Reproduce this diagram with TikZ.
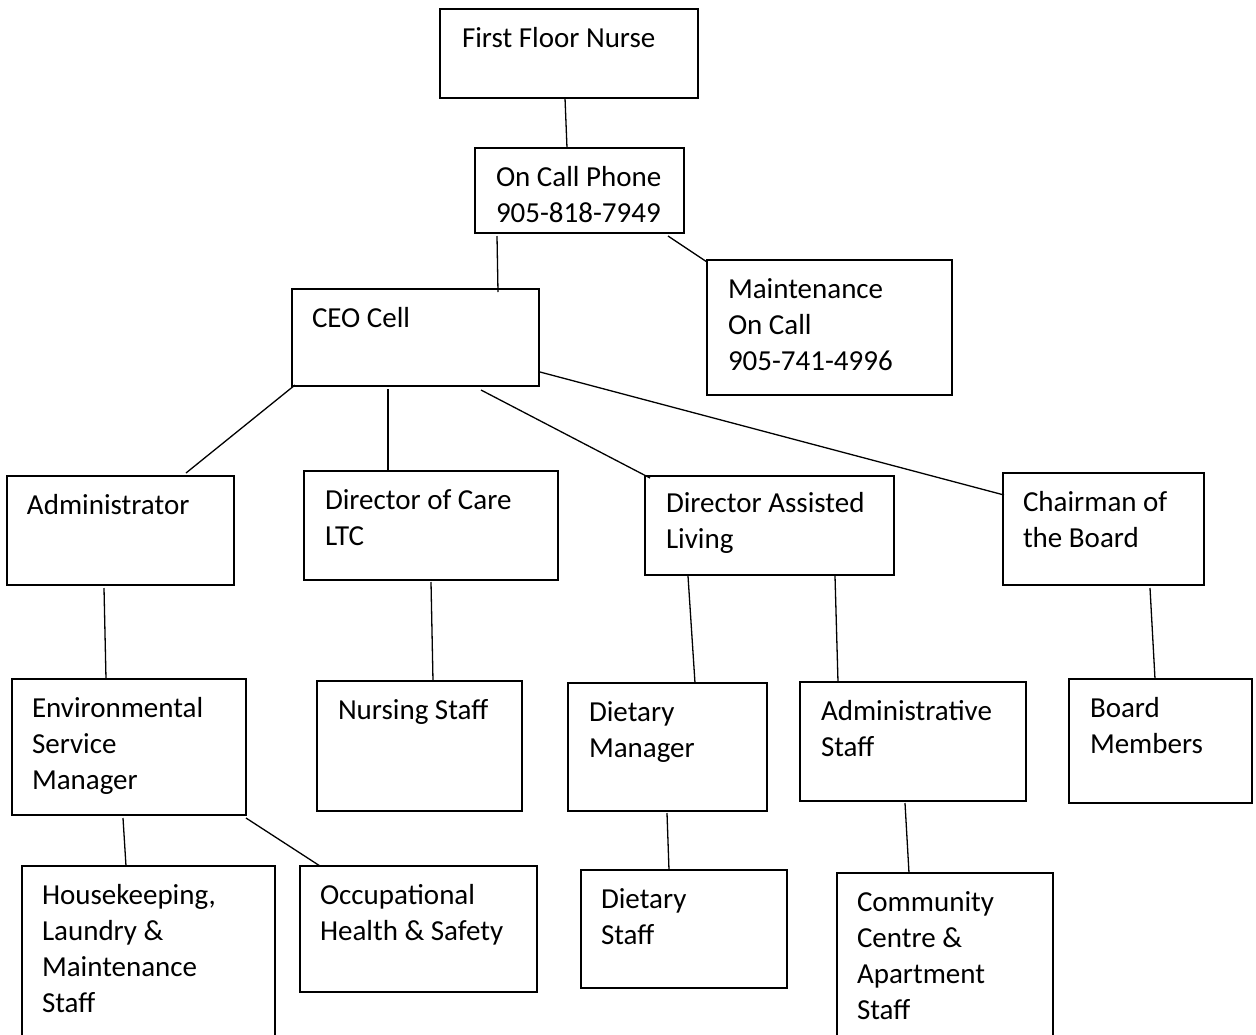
\documentclass[tikz,border=0pt]{standalone}
\usepackage{fontspec}
\setmainfont{Carlito}
\usetikzlibrary{calc}
\begin{document}
\begin{tikzpicture}[x=1pt,y=-1pt,
  box/.style={draw=black,line width=1.4pt,rectangle,inner sep=0pt,outer sep=0pt,anchor=north west},
  txt/.style={inner sep=0pt,outer sep=0pt,anchor=base west,align=left,font=\fontsize{29}{36}\selectfont},
  conn/.style={draw=black,line width=1.3pt}]
\useasboundingbox (0,0) rectangle (1256,1034);
\clip (0,0) rectangle (1256,1034);
% boxes
\node[box,minimum width=258pt,minimum height=89pt] (ffn) at (440,9) {};
\node[box,minimum width=209pt,minimum height=85pt] (ocp) at (475,148) {};
\node[box,minimum width=245pt,minimum height=135pt] (mnt) at (707,260) {};
\node[box,minimum width=247pt,minimum height=97pt] (ceo) at (292,289) {};
\node[box,minimum width=227pt,minimum height=109pt] (adm) at (7,476) {};
\node[box,minimum width=254pt,minimum height=109pt] (doc) at (304,471) {};
\node[box,minimum width=249pt,minimum height=99pt] (dal) at (645,476) {};
\node[box,minimum width=201pt,minimum height=112pt] (chr) at (1003,473) {};
\node[box,minimum width=234pt,minimum height=136pt] (esm) at (12,679) {};
\node[box,minimum width=205pt,minimum height=130pt] (nur) at (317,681) {};
\node[box,minimum width=199pt,minimum height=128pt] (dm) at (568,683) {};
\node[box,minimum width=226pt,minimum height=119pt] (ads) at (800,682) {};
\node[box,minimum width=183pt,minimum height=124pt] (brd) at (1069,679) {};
\node[box,minimum width=253pt,minimum height=180pt] (hk) at (22,866) {};
\node[box,minimum width=237pt,minimum height=126pt] (occ) at (300,866) {};
\node[box,minimum width=206pt,minimum height=118pt] (ds) at (581,870) {};
\node[box,minimum width=216pt,minimum height=180pt] (cc) at (837,873) {};
% texts (anchor = baseline of the last line)
\node[txt] (ffnT) at (462,47) {First Floor Nurse};
\node[txt] (ocpT) at (496,222) {On Call Phone\\905-818-7949};
\node[txt] (mntT) at (728,370) {Maintenance\\On Call\\905-741-4996};
\node[txt] (ceoT) at (312,327) {CEO Cell};
\node[txt] (admT) at (27,514) {Administrator};
\node[txt] (docT) at (325,545) {Director of Care\\LTC};
\node[txt] (dalT) at (666,548) {Director Assisted\\Living};
\node[txt] (chrT) at (1023,547) {Chairman of\\the Board};
\node[txt] (esmT) at (32,789) {Environmental\\Service\\Manager};
\node[txt] (nurT) at (338,719) {Nursing Staff};
\node[txt] (dmT) at (589,757) {Dietary\\Manager};
\node[txt] (adsT) at (821,756) {Administrative\\Staff};
\node[txt] (brdT) at (1090,753) {Board\\Members};
\node[txt] (hkT) at (42,1012) {Housekeeping,\\Laundry \&\\Maintenance\\Staff};
\node[txt] (occT) at (320,940) {Occupational\\Health \& Safety};
\node[txt] (dsT) at (601,944) {Dietary\\Staff};
\node[txt] (ccT) at (857,1019) {Community\\Centre \&\\Apartment\\Staff};
% connectors
\draw[conn] ($(ffn.south west)+(125,0)$) -- ($(ocp.north west)+(92,0)$);
\draw[conn] ($(ocp.south west)+(22,3)$) -- ($(ceo.north west)+(206,3)$);
\draw[conn] ($(ocp.south west)+(193,3)$) -- ($(mnt.north west)+(0,2)$);
\draw[conn] ($(ceo.south west)+(3,-1)$) -- ($(adm.north west)+(179,-3)$);
\draw[conn] ($(ceo.south west)+(96,3)$) -- ($(doc.north west)+(84,0)$);
\draw[conn] ($(ceo.south west)+(189,4)$) -- ($(dal.north west)+(5,2)$);
\draw[conn] ($(ceo.south east)+(1,-14)$) -- ($(chr.north west)+(1,22)$);
\draw[conn] ($(adm.south west)+(97,3)$) -- ($(esm.north west)+(94,0)$);
\draw[conn] ($(doc.south west)+(127,2)$) -- ($(nur.north west)+(116,0)$);
\draw[conn] ($(dal.south west)+(43,1)$) -- ($(dm.north west)+(127,0)$);
\draw[conn] ($(dal.south west)+(190,1)$) -- ($(ads.north west)+(38,0)$);
\draw[conn] ($(chr.south west)+(147,3)$) -- ($(brd.north west)+(86,0)$);
\draw[conn] ($(esm.south west)+(111,3)$) -- ($(hk.north west)+(104,0)$);
\draw[conn] ($(esm.south east)+(0,3)$) -- ($(occ.north west)+(20,0)$);
\draw[conn] ($(dm.south west)+(99,2)$) -- ($(ds.north west)+(88,0)$);
\draw[conn] ($(ads.south west)+(105,2)$) -- ($(cc.north west)+(72,0)$);
\end{tikzpicture}
\end{document}
